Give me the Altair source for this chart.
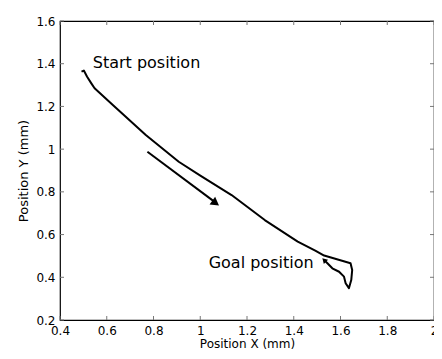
import altair as alt
import pandas as pd

# Trajectory
traj_x = [0.492, 0.502, 0.516, 0.534, 0.548, 0.626, 0.767, 0.908, 1.002, 1.134, 1.276, 1.417,
          1.492, 1.530, 1.643, 1.650, 1.646, 1.636, 1.622, 1.615, 1.594, 1.565, 1.544, 1.530]
traj_y = [1.363, 1.368, 1.339, 1.308, 1.285, 1.207, 1.066, 0.941, 0.875, 0.785, 0.668, 0.567,
          0.525, 0.502, 0.466, 0.434, 0.387, 0.349, 0.372, 0.403, 0.426, 0.442, 0.466, 0.481]

# Direction arrow
arrow_x = [0.774, 1.070]
arrow_y = [0.988, 0.746]
head_x = [1.066, 1.530]
head_y = [0.748, 0.481]
head_angle = [126, 315]
head_size = [90, 35]

# Annotations
label_text = ["Start position", "Goal position"]
label_x = [0.540, 1.036]
label_y = [1.403, 0.467]

x_ticks = [0.4, 0.6, 0.8, 1.0, 1.2, 1.4, 1.6, 1.8, 2.0]
y_ticks = [0.2, 0.4, 0.6, 0.8, 1.0, 1.2, 1.4, 1.6]

FONT = "DejaVu Sans"
W, H = 374, 299
TL = 4  # inward tick length

traj = pd.DataFrame({"x": traj_x, "y": traj_y, "i": range(len(traj_x))})
arrow = pd.DataFrame({"x": arrow_x, "y": arrow_y, "i": range(len(arrow_x))})
heads = pd.DataFrame({"x": head_x, "y": head_y, "a": head_angle, "s": head_size})
labels = pd.DataFrame({"x": label_x, "y": label_y, "t": label_text})
xt = pd.DataFrame({"v": x_ticks})
yt = pd.DataFrame({"v": y_ticks})

xs = alt.Scale(domain=[0.4, 2.0], nice=False, zero=False)
ys = alt.Scale(domain=[0.2, 1.6], nice=False, zero=False)

lab_axis_x = alt.Axis(values=x_ticks, format="~g", ticks=False, grid=False, domain=False,
                      labelFlush=False, labelOverlap=False,
                      labelPadding=5, labelFont=FONT, labelFontSize=12, labelColor="black",
                      title="Position X (mm)", titleFont=FONT, titleFontSize=12,
                      titleFontWeight="normal", titleColor="black",
                      titleBaseline="alphabetic", titleY=27)
lab_axis_y = alt.Axis(values=y_ticks, format="~g", ticks=False, grid=False, domain=False,
                      labelFlush=False, labelOverlap=False,
                      labelPadding=5, labelFont=FONT, labelFontSize=12, labelColor="black",
                      title="Position Y (mm)", titleFont=FONT, titleFontSize=13,
                      titleFontWeight="normal", titleColor="black", titlePadding=5)

base_line = alt.Chart(traj).mark_line(color="black", strokeWidth=2, strokeJoin="round").encode(
    x=alt.X("x:Q", scale=xs, axis=lab_axis_x),
    y=alt.Y("y:Q", scale=ys, axis=lab_axis_y),
    order="i:Q",
)

arrow_line = alt.Chart(arrow).mark_line(color="black", strokeWidth=2).encode(
    x=alt.X("x:Q", scale=xs),
    y=alt.Y("y:Q", scale=ys),
    order="i:Q",
)

head_marks = alt.Chart(heads).mark_point(shape="triangle-up", filled=True, color="black", opacity=1).encode(
    x=alt.X("x:Q", scale=xs),
    y=alt.Y("y:Q", scale=ys),
    angle=alt.Angle("a:Q", scale=None),
    size=alt.Size("s:Q", scale=None, legend=None),
)

texts = alt.Chart(labels).mark_text(align="left", baseline="middle", font=FONT, fontSize=16,
                                    color="black").encode(
    x=alt.X("x:Q", scale=xs),
    y=alt.Y("y:Q", scale=ys),
    text="t:N",
)

tick_color = "#777777"
xt_bottom = alt.Chart(xt).mark_rule(color=tick_color, strokeWidth=1).encode(
    x=alt.X("v:Q", scale=xs), y=alt.value(H), y2=alt.value(H - TL))
xt_top = alt.Chart(xt).mark_rule(color=tick_color, strokeWidth=1).encode(
    x=alt.X("v:Q", scale=xs), y=alt.value(0), y2=alt.value(TL))
yt_left = alt.Chart(yt).mark_rule(color=tick_color, strokeWidth=1).encode(
    y=alt.Y("v:Q", scale=ys), x=alt.value(0), x2=alt.value(TL))
yt_right = alt.Chart(yt).mark_rule(color=tick_color, strokeWidth=1).encode(
    y=alt.Y("v:Q", scale=ys), x=alt.value(W), x2=alt.value(W - TL))

chart = alt.layer(base_line, xt_bottom, xt_top, yt_left, yt_right, arrow_line, head_marks, texts).properties(
    width=W, height=H,
    autosize=alt.AutoSizeParams(type="none"),
    padding={"left": 52, "top": 13, "right": 0, "bottom": 30},
    background="white",
).configure_view(stroke="black", strokeWidth=1.2)

chart.save("out.html", embed_options={"renderer": "svg", "actions": False})
